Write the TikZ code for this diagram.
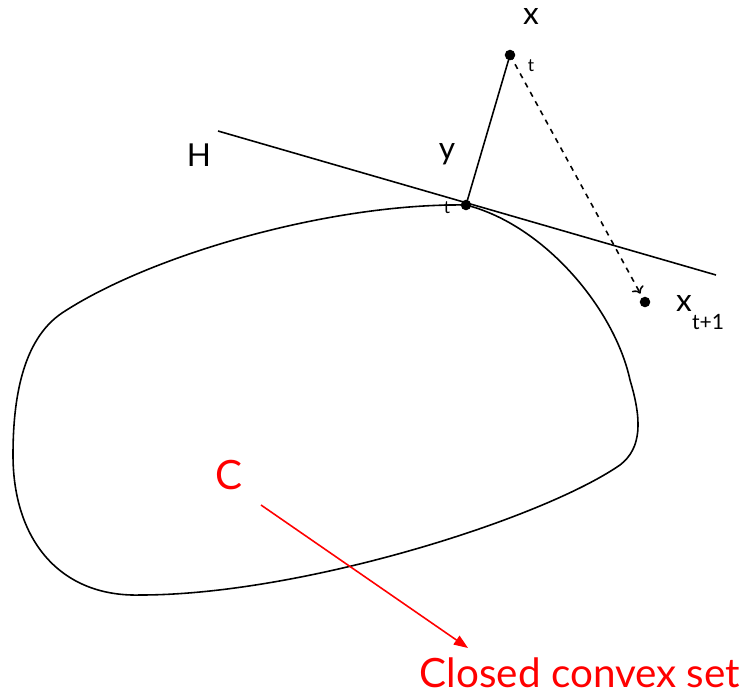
\documentclass[tikz,border=0pt]{standalone}
\usepackage{fontspec}
\setmainfont{Lato}
\usetikzlibrary{arrows.meta}
\tikzset{
  dot/.style={circle, fill=black, inner sep=0pt, minimum size=6pt},
  lbl/.style={font=\fontsize{18}{18}\selectfont},
  sub/.style={font=\fontsize{10}{10}\selectfont},
  redlbl/.style={red, font=\fontsize{23}{23}\selectfont},
}
\begin{document}
\begin{tikzpicture}[x=0.02cm, y=-0.02cm, line width=0.9pt]
    \useasboundingbox (0,0) rectangle (746,697);

    % Closed convex set
    \draw (466,205) .. controls (330,203) and (150,255) .. (62,313)
        .. controls (22,340) and (13,400) .. (13,455)
        .. controls (13,540) and (60,597) .. (140,595)
        .. controls (300,595) and (540,520) .. (620,465)
        .. controls (642,448) and (642,420) .. (630,380)
        .. controls (615,310) and (545,225) .. cycle;

    % Points
    \node[dot] (xt) at (510,55) {};
    \node[dot] (yt) at (466,205) {};
    \node[dot] (xt1) at (645,302) {};

    % Hyperplane H
    \coordinate (h1) at (218,131);
    \coordinate (h2) at (716,275);
    \draw (h1) -- (h2);
    \node[lbl] (hlab) at (199,155) {H};

    % Projection and step
    \draw (xt.center) -- (yt.center);
    \draw[dashed, ->, shorten >=2pt] (xt.center) -- (xt1);

    % Labels
    \node[lbl, inner sep=1pt] (xlab) at (531,16) {x};
    \node[sub] (xsub) at (531,66) {t};
    \node[lbl] (ylab) at (447,154) {y};
    \node[sub] (ysub) at (447,208) {t};
    \node[lbl] (x1lab) at (684,303) {x};
    \node[sub, font=\fontsize{12}{12}\selectfont] (x1sub) at (708,322) {t+1};

    % Set label
    \node[redlbl] (clab) at (229,475) {C};
    \node[redlbl] (cname) at (580,673) {Closed convex set};
    \coordinate (cs) at (261,505);
    \coordinate (ce) at (468,648);
    \draw[red, -{Triangle[length=8pt, width=6pt]}] (cs) -- (ce);
\end{tikzpicture}
\end{document}
